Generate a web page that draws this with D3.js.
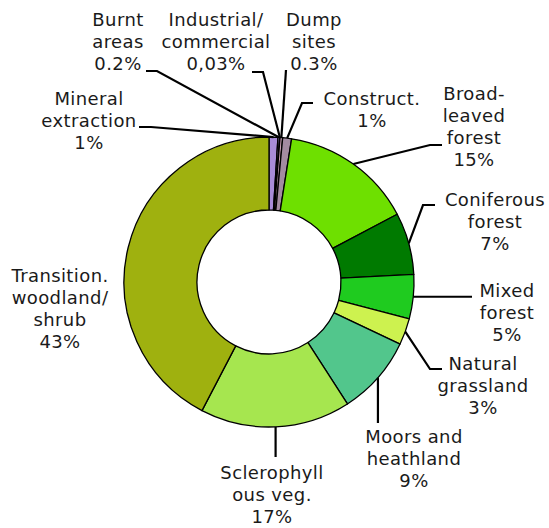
<!DOCTYPE html>
<html>
<head>
<meta charset="utf-8">
<script src="https://d3js.org/d3.v7.min.js"></script>
<style>
  body { margin: 0; background: #fff; }
</style>
</head>
<body>
<div id="viz"></div>
<script>
//Datos del grafico (orden horario desde las 12)
var categorias = ['Mineral extraction', 'Burnt areas', 'Industrial/commercial', 'Dump sites',
  'Construct.', 'Broad-leaved forest', 'Coniferous forest', 'Mixed forest',
  'Natural grassland', 'Moors and heathland', 'Sclerophyllous veg.', 'Transition. woodland/shrub'];
var valores = [1, 0.2, 0.03, 0.3, 1, 15, 7, 5, 3, 9, 17, 43];
var etiquetas = [
  ['Mineral', 'extraction', '1%'],
  ['Burnt', 'areas', '0.2%'],
  ['Industrial/', 'commercial', '0,03%'],
  ['Dump', 'sites', '0.3%'],
  ['Construct.', '1%'],
  ['Broad-', 'leaved', 'forest', '15%'],
  ['Coniferous', 'forest', '7%'],
  ['Mixed', 'forest', '5%'],
  ['Natural', 'grassland', '3%'],
  ['Moors and', 'heathland', '9%'],
  ['Sclerophyll', 'ous veg.', '17%'],
  ['Transition.', 'woodland/', 'shrub', '43%']
];

//Colores de cada porcion
var colores = ['#a98cd8', '#8c6cae', '#e8864a', '#c8a0b4', '#a38ba1', '#6ee000',
  '#007a00', '#1fcb1f', '#cdf24f', '#52c68c', '#a6e64f', '#9fb10f'];

//Ubicacion de los textos y de las lineas guia (null = misma x que el borde)
var posiciones = [
  {x: 89,  y: 105, guia: [[151, 127], [139, 127]]},
  {x: 118, y: 26,  guia: [[157, 71], [146, 71]]},
  {x: 216, y: 26,  guia: [[263, 72], [252, 72]]},
  {x: 314, y: 26,  guia: [[286, 70]]},
  {x: 372, y: 105, guia: [[302, 103], [313, 103]]},
  {x: 474, y: 100, guia: [[430, 145], [442, 145]]},
  {x: 495, y: 206, guia: [[423, 205], [435, 205]]},
  {x: 507, y: 297, guia: [[472, null]]},
  {x: 483, y: 370, guia: [[430, 369], [442, 369]]},
  {x: 414, y: 443, guia: [[null, 423]]},
  {x: 272, y: 479, guia: [[null, 457]]},
  {x: 60,  y: 282, guia: []}
];

var Grafico = new function(){
  /*
   * Variables de configuracion
   */
  this.width = 549;
  this.height = 528;
  this.cx = 269;
  this.cy = 282;
  this.radioExt = 145;
  this.radioInt = 72;
  this.interlineado = 22;

  this.svg = d3.select('#viz')
    .append('svg')
    .attr('width', this.width)
    .attr('height', this.height);
  this.gTorta  = this.svg.append('g').attr('transform', 'translate(' + this.cx + ',' + this.cy + ')');
  this.gGuias  = this.svg.append('g');
  this.gTextos = this.svg.append('g');

  /*
   * Dibujo la dona
   */
  this.renderTorta = function(){
    var pie = d3.pie().sort(null).value(function(d){ return d; });
    var arco = d3.arc().innerRadius(Grafico.radioInt).outerRadius(Grafico.radioExt);
    var borde = d3.arc().innerRadius(Grafico.radioExt).outerRadius(Grafico.radioExt);

    var porciones = pie(valores);

    Grafico.gTorta.selectAll('path')
      .data(porciones)
      .enter().append('path')
      .attr('d', arco)
      .style('fill', function(d, i){ return colores[i]; })
      .attr('stroke', '#000')
      .attr('stroke-width', 1.3)
      .attr('stroke-linejoin', 'round');

    //Lineas guia desde el borde externo hasta el texto
    for (var i = 0; i < porciones.length; i++) {
      var pos = posiciones[i];
      if (pos.guia.length === 0) continue;
      var c = borde.centroid(porciones[i]);
      var p0 = [Grafico.cx + c[0], Grafico.cy + c[1]];
      var puntos = [p0];
      pos.guia.forEach(function(p){
        puntos.push([p[0] === null ? p0[0] : p[0], p[1] === null ? p0[1] : p[1]]);
      });
      Grafico.gGuias.append('path')
        .attr('d', d3.line()(puntos))
        .attr('fill', 'none')
        .attr('stroke', '#000')
        .attr('stroke-width', 2.2);
    }
  } //Fin renderTorta

  /*
   * Textos de cada porcion
   */
  this.renderTextos = function(){
    for (var i = 0; i < etiquetas.length; i++) {
      var t = Grafico.gTextos.append('text')
        .attr('x', posiciones[i].x)
        .attr('y', posiciones[i].y)
        .attr('text-anchor', 'middle')
        .style('font-family', '"DejaVu Sans", Verdana, sans-serif')
        .style('font-size', '18px')
        .style('letter-spacing', '0.4px')
        .style('fill', '#1a1a1a');
      etiquetas[i].forEach(function(linea, j){
        t.append('tspan')
          .attr('x', posiciones[i].x)
          .attr('dy', j === 0 ? 0 : Grafico.interlineado)
          .text(linea);
      });
    }
  } //Fin renderTextos
}

Grafico.renderTorta();
Grafico.renderTextos();
</script>
</body>
</html>
